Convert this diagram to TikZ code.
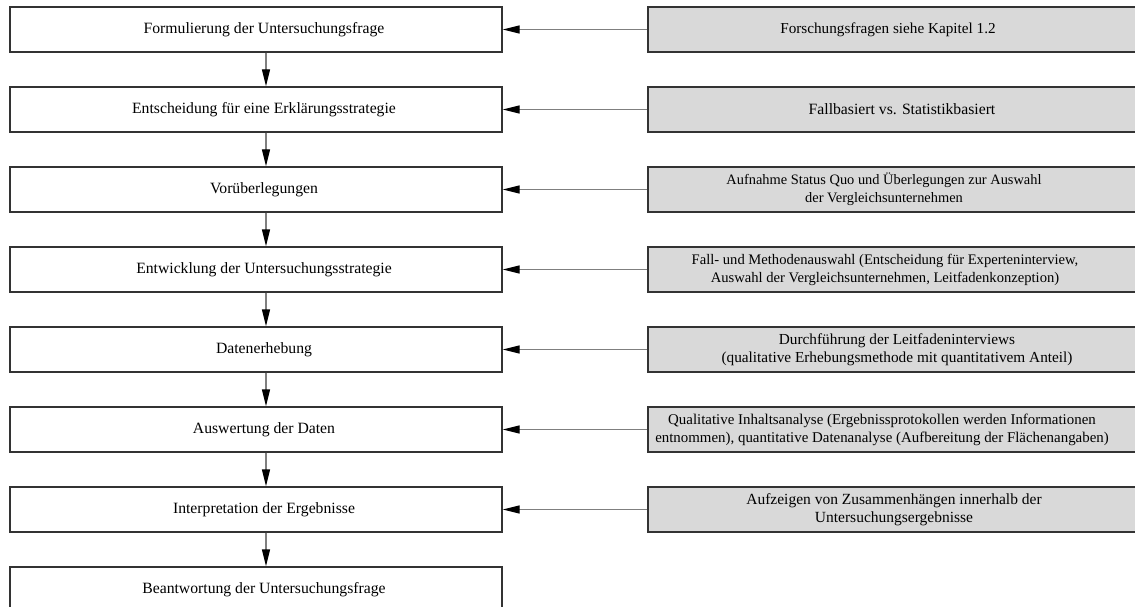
\documentclass[tikz,border=0pt]{standalone}
\usepackage{fontspec}
\setmainfont{Liberation Serif}
\usetikzlibrary{arrows.meta}
\definecolor{boxline}{HTML}{333333}
\definecolor{boxfill}{HTML}{D9D9D9}
\definecolor{conn}{HTML}{7F7F7F}
\newcommand{\fs}[1]{\fontsize{#1}{18}\selectfont}
\tikzset{
  stepbox/.style={draw=boxline, line width=1.3pt, fill=white, rectangle,
    minimum width=492pt, minimum height=45pt, inner sep=0pt},
  notebox/.style={stepbox, fill=boxfill},
  boxtext/.style={inner sep=0pt, align=center},
  flow/.style={draw=conn, line width=1.3pt,
    -{Triangle[length=17pt,width=8pt,fill=black,color=black]}}
}
\begin{document}
\begin{tikzpicture}[x=1pt,y=-1pt,
  every node/.style={font=\fs{15.7}}]
\useasboundingbox (0,0) rectangle (1135,607);
\fill[white] (0,0) rectangle (1135,607);

% left column: steps of the study
\foreach \i/\t in {
  0/Formulierung der Untersuchungsfrage,
  1/Entscheidung für eine Erklärungsstrategie,
  2/Vorüberlegungen,
  3/Entwicklung der Untersuchungsstrategie,
  4/Datenerhebung,
  5/Auswertung der Daten,
  6/Interpretation der Ergebnisse,
  7/Beantwortung der Untersuchungsfrage}{
  \node[stepbox] (s\i) at (256,29.5+80*\i) {};
  \node[boxtext] (t\i) at ([xshift=8pt]s\i.center) {\t};
}

% right column: notes on each step
\foreach \i in {0,...,6}{
  \node[notebox] (n\i) at (894,29.5+80*\i) {};
}
\node[boxtext, font=\fs{15.2}] (m0) at (888,29.5) {Forschungsfragen siehe Kapitel 1.2};
\node[boxtext, font=\fs{15.7}] (m1) at (902,109.5) {Fallbasiert vs. Statistikbasiert};
\node[boxtext, font=\fs{14.4}] (m2) at (884,189.5) {Aufnahme Status Quo und Überlegungen zur Auswahl\\der Vergleichsunternehmen};
\node[boxtext, font=\fs{14.6}] (m3) at (885,269.5) {Fall- und Methodenauswahl (Entscheidung für Experteninterview,\\Auswahl der Vergleichsunternehmen, Leitfadenkonzeption)};
\node[boxtext, font=\fs{15.3}] (m4) at (897,349.5) {Durchführung der Leitfadeninterviews\\(qualitative Erhebungsmethode mit quantitativem Anteil)};
\node[boxtext, font=\fs{14.9}] (m5) at (882,429.5) {Qualitative Inhaltsanalyse (Ergebnissprotokollen werden Informationen\\entnommen), quantitative Datenanalyse (Aufbereitung der Flächenangaben)};
\node[boxtext, font=\fs{15.5}] (m6) at (894,509.5) {Aufzeigen von Zusammenhängen innerhalb der\\Untersuchungsergebnisse};

% vertical flow between steps
\foreach \i [evaluate=\i as \j using int(\i+1)] in {0,...,6}{
  \draw[flow] ([xshift=10pt]s\i.south) -- ([xshift=10pt]s\j.north);
}

% notes feeding into the steps
\foreach \i in {0,...,6}{
  \draw[flow] (n\i.west) -- (s\i.east);
}
\end{tikzpicture}
\end{document}
